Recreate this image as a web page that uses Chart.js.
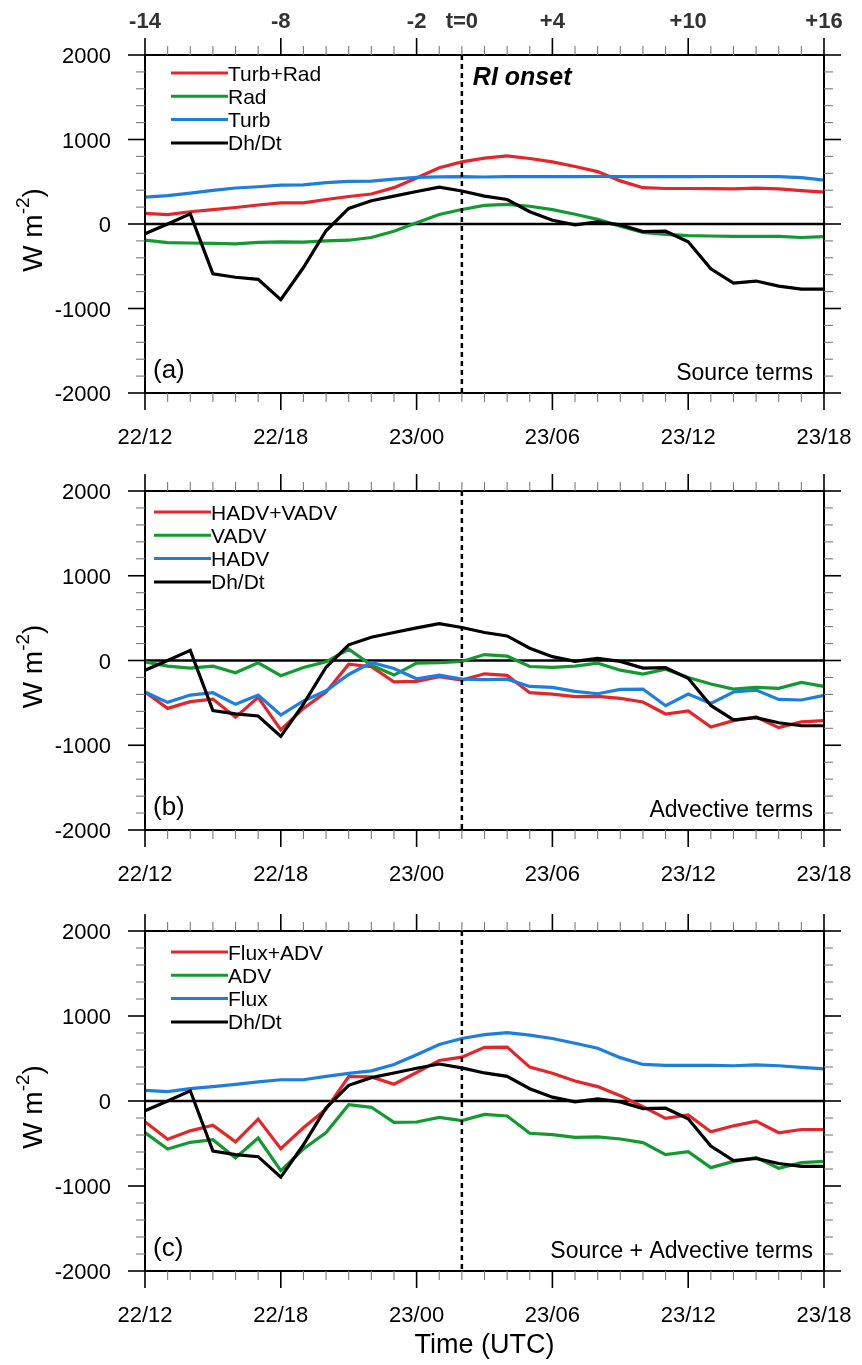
<!DOCTYPE html>
<html>
<head>
<meta charset="utf-8">
<title>Moist static energy budget around RI onset</title>
<script src="https://cdn.jsdelivr.net/npm/chart.js@4.4.1/dist/chart.umd.min.js"></script>
<style>
  html, body { margin: 0; padding: 0; background: #ffffff; }
  #wrap { position: relative; width: 862px; height: 1365px; overflow: hidden; }
  #wrap canvas { position: absolute; left: 0; }
</style>
</head>
<body>
<div id="wrap">
  <canvas id="panelA" width="862" height="450" style="top:0px;width:862px;height:450px"></canvas>
  <canvas id="panelB" width="862" height="440" style="top:450px;width:862px;height:440px"></canvas>
  <canvas id="panelC" width="862" height="475" style="top:890px;width:862px;height:475px"></canvas>
</div>
<script>
// ---- time axis (hourly, 22/12 UTC to 23/18 UTC) ----
const hourLabels = [
  '22/12','22/13','22/14','22/15','22/16','22/17','22/18','22/19','22/20','22/21','22/22','22/23',
  '23/00','23/01','23/02','23/03','23/04','23/05','23/06','23/07','23/08','23/09','23/10','23/11',
  '23/12','23/13','23/14','23/15','23/16','23/17','23/18'
];
const dateTickLabels = ['22/12', '22/18', '23/00', '23/06', '23/12', '23/18'];
const dateTickHours = [0, 6, 12, 18, 24, 30];
const leadTickLabels = ['-14', '-8', '-2', 't=0', '+4', '+10', '+16'];
const leadTickHours = [0, 6, 12, 14, 18, 24, 30];
const onsetHour = 14;
const yTickValues = [2000, 1000, 0, -1000, -2000];

// ---- budget terms (W m-2) ----
const dhdt = [-115, 0, 120, -590, -630, -655, -895, -515, -80, 185, 275, 330, 385, 435, 390, 330,
  290, 145, 45, -10, 25, -10, -90, -85, -210, -530, -700, -675, -735, -770, -770];
const turbRad = [125, 110, 145, 170, 195, 225, 250, 250, 290, 325, 355, 430, 545, 665, 735, 780,
  805, 775, 735, 680, 620, 510, 430, 420, 420, 418, 415, 425, 415, 395, 378];
const rad = [-190, -220, -225, -230, -235, -218, -212, -215, -200, -192, -160, -85, 15, 112, 172, 220,
  232, 210, 170, 115, 55, -25, -100, -122, -138, -142, -146, -146, -146, -160, -150];
const turb = [318, 335, 366, 398, 426, 441, 460, 462, 489, 504, 508, 532, 552, 558, 560, 556,
  560, 560, 560, 560, 562, 560, 560, 560, 560, 562, 562, 562, 560, 548, 520];
const hadvVadv = [-372, -565, -486, -455, -670, -435, -819, -565, -372, -43, -74, -251, -247, -192, -231, -157,
  -176, -380, -396, -427, -423, -447, -490, -631, -596, -784, -710, -666, -792, -725, -710];
const vadv = [-16, -67, -90, -67, -145, -27, -180, -82, -16, 133, -55, -172, -31, -24, -12, 70,
  51, -71, -82, -67, -31, -114, -161, -102, -200, -278, -337, -318, -329, -259, -306];
const hadv = [-372, -494, -408, -380, -517, -408, -643, -478, -357, -165, -24, -94, -216, -172, -220, -225,
  -220, -306, -318, -365, -392, -341, -337, -533, -396, -506, -372, -349, -459, -466, -412];
const fluxAdv = [-244, -449, -351, -284, -481, -213, -560, -315, -95, 288, 284, 197, 335, 477, 516, 632,
  634, 398, 327, 236, 169, 63, -67, -205, -165, -362, -292, -236, -374, -335, -335];

const RED = '#e4262a';
const GREEN = '#129a30';
const BLUE = '#1c7fe0';
const BLACK = '#000000';
const FONT = '"Liberation Sans", Arial, Helvetica, sans-serif';

function line(ctx, x0, y0, x1, y1) {
  ctx.beginPath();
  ctx.moveTo(x0, y0);
  ctx.lineTo(x1, y1);
  ctx.stroke();
}

// Frame, ticks, labels, legend and annotations drawn from the chart's scales
const panelDecor = {
  id: 'panelDecor',
  beforeDatasetsDraw(chart) {
    const ctx = chart.ctx;
    const { left, right } = chart.chartArea;
    const y0 = chart.scales.y.getPixelForValue(0);
    ctx.save();
    ctx.strokeStyle = BLACK;
    ctx.lineWidth = 2.5;
    line(ctx, left, y0, right, y0);
    ctx.restore();
  },
  afterDatasetsDraw(chart, args, o) {
    const ctx = chart.ctx;
    const xs = chart.scales.x, ys = chart.scales.y;
    const { left, right, top, bottom } = chart.chartArea;
    ctx.save();

    // RI onset marker
    const xOn = xs.getPixelForValue(onsetHour);
    ctx.strokeStyle = BLACK;
    ctx.lineWidth = 2.5;
    ctx.setLineDash([5, 4]);
    line(ctx, xOn, top, xOn, bottom);
    ctx.setLineDash([]);

    // frame
    ctx.lineWidth = 2;
    ctx.strokeRect(left, top, right - left, bottom - top);

    // x ticks (top and bottom, outward)
    for (let h = 0; h < hourLabels.length; h++) {
      const px = xs.getPixelForValue(h);
      const major = dateTickHours.includes(h);
      const len = major ? 17 : 9;
      ctx.strokeStyle = major ? '#000' : '#7a7a7a';
      ctx.lineWidth = major ? 1.6 : 1.1;
      line(ctx, px, bottom, px, bottom + len);
      line(ctx, px, top, px, top - len);
    }
    // y ticks (left and right, outward)
    for (let v = -2000; v <= 2000; v += 200) {
      const py = ys.getPixelForValue(v);
      const major = v % 1000 === 0;
      const len = major ? 17 : 9;
      ctx.strokeStyle = major ? '#000' : '#7a7a7a';
      ctx.lineWidth = major ? 1.6 : 1.1;
      line(ctx, left, py, left - len, py);
      line(ctx, right, py, right + len, py);
    }

    // y tick labels
    ctx.fillStyle = '#000';
    ctx.font = '22px ' + FONT;
    ctx.textAlign = 'right';
    ctx.textBaseline = 'alphabetic';
    yTickValues.forEach(v => {
      ctx.fillText(String(v), 111, ys.getPixelForValue(v) + 8);
    });

    // x tick labels
    ctx.textAlign = 'center';
    dateTickHours.forEach((h, i) => {
      ctx.fillText(dateTickLabels[i], xs.getPixelForValue(h), bottom + 51);
    });

    // lead-time labels on top axis
    if (o.leadAxis) {
      ctx.fillStyle = '#333';
      ctx.font = 'bold 22px ' + FONT;
      leadTickHours.forEach((h, i) => {
        ctx.fillText(leadTickLabels[i], xs.getPixelForValue(h), top - 27);
      });
      ctx.fillStyle = '#000';
      ctx.font = 'italic bold 25px ' + FONT;
      ctx.textAlign = 'left';
      ctx.fillText('RI onset', xOn + 11, top + 30);
    }

    // y axis title
    ctx.save();
    ctx.translate(32, (top + bottom) / 2 + 6);
    ctx.rotate(-Math.PI / 2);
    ctx.fillStyle = '#000';
    const mainFont = '28px ' + FONT, supFont = '19px ' + FONT;
    ctx.font = mainFont;
    const w1 = ctx.measureText('W m').width;
    const w3 = ctx.measureText(')').width;
    ctx.font = supFont;
    const w2 = ctx.measureText('-2').width;
    let xx = -(w1 + w2 + w3) / 2;
    ctx.textAlign = 'left';
    ctx.font = mainFont;
    ctx.fillText('W m', xx, 10);
    xx += w1;
    ctx.font = supFont;
    ctx.fillText('-2', xx, -3);
    xx += w2;
    ctx.font = mainFont;
    ctx.fillText(')', xx, 10);
    ctx.restore();

    // panel letter and description
    ctx.font = '26px ' + FONT;
    ctx.textAlign = 'left';
    ctx.fillText(o.letter, left + 8, bottom - 15);
    ctx.font = '23px ' + FONT;
    ctx.textAlign = 'right';
    ctx.fillText(o.note, right - 11, bottom - 13);

    // x axis title
    if (o.timeTitle) {
      ctx.font = '27px ' + FONT;
      ctx.textAlign = 'center';
      ctx.fillText('Time (UTC)', (left + right) / 2, bottom + 82);
    }

    // legend
    ctx.font = '21px ' + FONT;
    ctx.textAlign = 'left';
    chart.data.datasets.forEach((ds, i) => {
      const ly = o.legendY + i * 23.3;
      ctx.strokeStyle = ds.borderColor;
      ctx.lineWidth = 3;
      line(ctx, o.legendX0, ly, o.legendX1, ly);
      ctx.fillStyle = '#000';
      ctx.fillText(ds.label, o.legendX1, ly + 7.5);
    });

    ctx.restore();
  }
};

function series(label, data, color, order) {
  return {
    label, data,
    borderColor: color, backgroundColor: color,
    borderWidth: 3.2, pointRadius: 0, tension: 0, fill: false,
    order
  };
}

function makePanel(canvasId, padTop, padBottom, datasets, decor) {
  return new Chart(document.getElementById(canvasId), {
    type: 'line',
    data: { labels: hourLabels, datasets },
    options: {
      responsive: false,
      animation: false,
      devicePixelRatio: 1,
      layout: { padding: { left: 145, right: 38, top: padTop, bottom: padBottom } },
      scales: {
        x: { type: 'category', display: false, offset: false },
        y: { type: 'linear', display: false, min: -2000, max: 2000 }
      },
      plugins: {
        legend: { display: false },
        tooltip: { enabled: false },
        panelDecor: decor
      }
    },
    plugins: [panelDecor]
  });
}

makePanel('panelA', 55, 57, [
  series('Turb+Rad', turbRad, RED, 3),
  series('Rad', rad, GREEN, 2),
  series('Turb', turb, BLUE, 1),
  series('Dh/Dt', dhdt, BLACK, 0)
], { letter: '(a)', note: 'Source terms', leadAxis: true, timeTitle: false,
     legendX0: 171, legendX1: 228, legendY: 73 });

makePanel('panelB', 41, 60, [
  series('HADV+VADV', hadvVadv, RED, 3),
  series('VADV', vadv, GREEN, 2),
  series('HADV', hadv, BLUE, 1),
  series('Dh/Dt', dhdt, BLACK, 0)
], { letter: '(b)', note: 'Advective terms', leadAxis: false, timeTitle: false,
     legendX0: 154, legendX1: 211, legendY: 62 });

makePanel('panelC', 41, 94, [
  series('Flux+ADV', fluxAdv, RED, 3),
  series('ADV', hadvVadv, GREEN, 2),
  series('Flux', turbRad, BLUE, 1),
  series('Dh/Dt', dhdt, BLACK, 0)
], { letter: '(c)', note: 'Source + Advective terms', leadAxis: false, timeTitle: true,
     legendX0: 171, legendX1: 228, legendY: 62 });
</script>
</body>
</html>
